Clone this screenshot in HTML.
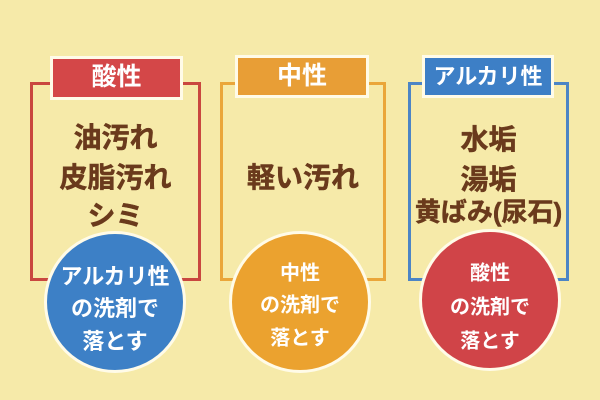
<!DOCTYPE html>
<html><head><meta charset="utf-8"><style>
*{margin:0;padding:0;box-sizing:border-box}
body{width:600px;height:400px;background:#f6eaa9;position:relative;overflow:hidden;font-family:"Liberation Sans","Noto Sans CJK JP",sans-serif;font-weight:bold}
.br{position:absolute;border:3.5px solid;border-top:3.5px solid}
.lb{position:absolute;border:3px solid #fffbe8;color:#fff;text-align:center;font-size:25px;line-height:37px}
.t{position:absolute;color:#6a3a1c;text-align:center;font-size:28px;white-space:nowrap;-webkit-text-stroke:0.5px #6a3a1c}
.c{position:absolute;width:142px;height:142px;border-radius:50%;border:3px solid #fffbe8;color:#fff;text-align:center;white-space:nowrap}
.c div{position:absolute;left:0;right:0;transform:translateY(-50%)}
</style></head><body>
<div class="br" style="left:30px;top:82px;width:171px;height:199px;border-color:#c9473f"></div>
<div class="lb" style="left:50px;top:56px;width:133px;height:44px;background:#d44748">酸性</div>
<div class="t" style="left:30px;width:171px;top:116px">油汚れ</div>
<div class="t" style="left:30px;width:171px;top:156px">皮脂汚れ</div>
<div class="t" style="left:30px;width:171px;top:194px">シミ</div>
<div class="c" style="left:44px;top:231px;background:#3d80c6;font-size:22px">
<div style="top:41px">アルカリ性</div><div style="top:73px">の洗剤で</div><div style="top:106px">落とす</div></div>

<div class="br" style="left:220px;top:82px;width:166px;height:199px;border-color:#eaa63a"></div>
<div class="lb" style="left:235px;top:55px;width:134px;height:43px;background:#e89e36">中性</div>
<div class="t" style="left:220px;width:166px;top:156px">軽い汚れ</div>
<div class="c" style="left:229px;top:231px;background:#eba22f;font-size:20px">
<div style="top:37px">中性</div><div style="top:69px">の洗剤で</div><div style="top:102px">落とす</div></div>

<div class="br" style="left:408px;top:82px;width:161px;height:199px;border-color:#4c85c5"></div>
<div class="lb" style="left:422px;top:55px;width:132px;height:43px;background:#3d7fc6;font-size:22px">アルカリ性</div>
<div class="t" style="left:408px;width:161px;top:118px">水垢</div>
<div class="t" style="left:408px;width:161px;top:158px">湯垢</div>
<div class="t" style="left:400px;width:177px;top:192px;font-size:26px">黄ばみ(尿石)</div>
<div class="c" style="left:419px;top:229px;background:#d04448;font-size:20px">
<div style="top:39px">酸性</div><div style="top:73px">の洗剤で</div><div style="top:107px">落とす</div></div>
</body></html>
